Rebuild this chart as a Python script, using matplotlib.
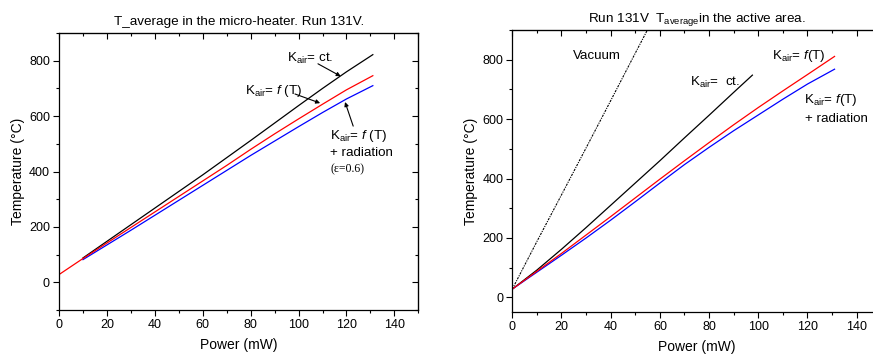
"""Micro-heater average temperature vs power, run 131V (two panels)."""
import matplotlib
matplotlib.use("Agg")
import matplotlib.pyplot as plt
from matplotlib.ticker import MultipleLocator

plt.rcParams["font.family"] = ["Liberation Sans", "DejaVu Sans"]
plt.rcParams["mathtext.fontset"] = "custom"
plt.rcParams["mathtext.rm"] = "Liberation Sans"
plt.rcParams["mathtext.it"] = "Liberation Sans:italic"

# ---- left panel: T_average in the micro-heater ----
L_P_CT = [10, 20, 30, 40, 50, 60, 70, 80, 90, 100, 110, 120, 131]
L_T_CT = [88, 148, 208, 268, 328, 388, 450, 512, 575, 638, 700, 760, 822]
L_P_FT = [0, 10, 20, 30, 40, 50, 60, 70, 80, 90, 100, 110, 120, 131]
L_T_FT = [28, 86, 142, 198, 254, 310, 366, 422, 480, 536, 590, 643, 695, 746]
L_P_RAD = [10, 20, 30, 40, 50, 60, 70, 80, 90, 100, 110, 120, 131]
L_T_RAD = [82, 135, 188, 242, 296, 350, 404, 458, 510, 562, 613, 662, 710]

# ---- right panel: T_average in the active area ----
R_P_VAC = [0, 10, 20, 30, 40, 50, 56]
R_T_VAC = [28, 188, 345, 503, 662, 822, 917]
R_P_CT = [0, 10, 20, 30, 40, 50, 60, 70, 80, 90, 97.6]
R_T_CT = [28, 92, 162, 235, 310, 385, 460, 537, 613, 690, 748]
R_P_FT = [0, 10, 20, 30, 40, 50, 60, 70, 80, 90, 100, 110, 120, 131]
R_T_FT = [28, 88, 148, 210, 272, 335, 398, 460, 521, 581, 639, 695, 750, 811]
R_P_RAD = [0, 10, 20, 30, 40, 50, 60, 70, 80, 90, 100, 110, 120, 131]
R_T_RAD = [28, 85, 142, 200, 260, 322, 385, 447, 505, 561, 614, 667, 718, 768]

KCT = r"K$_\mathrm{air}$= ct."
KFT = r"K$_\mathrm{air}$= $\mathit{f}$ (T)"
KFT2 = r"K$_\mathrm{air}$= $\mathit{f}$(T)"
ARROW = dict(arrowstyle="-|>", lw=0.8, color="k", mutation_scale=6,
             shrinkA=0, shrinkB=0)
FS = 9.6


def style(ax, ylim):
    ax.set_xlim(0, 150)
    ax.set_ylim(*ylim)
    ax.xaxis.set_major_locator(MultipleLocator(20))
    ax.xaxis.set_minor_locator(MultipleLocator(10))
    ax.yaxis.set_major_locator(MultipleLocator(200))
    ax.yaxis.set_minor_locator(MultipleLocator(100))
    ax.tick_params(which="both", direction="out", labelsize=9, pad=2, width=0.8)
    ax.tick_params(which="major", length=4.5)
    ax.tick_params(which="minor", length=2.5)
    for s in ax.spines.values():
        s.set_linewidth(0.9)
    # mirror ticks pointing inward on top / right
    top = ax.secondary_xaxis("top")
    top.xaxis.set_major_locator(MultipleLocator(20))
    top.xaxis.set_minor_locator(MultipleLocator(10))
    top.tick_params(which="both", direction="in", labeltop=False, width=0.8)
    top.tick_params(which="major", length=4.5)
    top.tick_params(which="minor", length=2.5)
    right = ax.secondary_yaxis("right")
    right.yaxis.set_major_locator(MultipleLocator(200))
    right.yaxis.set_minor_locator(MultipleLocator(100))
    right.tick_params(which="both", direction="in", labelright=False, width=0.8)
    right.tick_params(which="major", length=4.5)
    right.tick_params(which="minor", length=2.5)
    ax.set_xlabel("Power (mW)", fontsize=10, labelpad=5)
    ax.set_ylabel("Temperature (°C)", fontsize=10, labelpad=3)


fig = plt.figure(figsize=(8.73, 3.58), dpi=100)

ax1 = fig.add_axes([0.0676, 0.134, 0.4116, 0.7737])
ax1.plot(L_P_CT, L_T_CT, color="black", lw=0.9)
ax1.plot(L_P_RAD, L_T_RAD, color="blue", lw=0.9)
ax1.plot(L_P_FT, L_T_FT, color="red", lw=0.9)
style(ax1, (-100, 900))
ax1.set_title("T_average in the micro-heater. Run 131V.", fontsize=9.7, pad=6)
ax1.text(95.2, 796, KCT, fontsize=FS)
ax1.annotate("", xy=(117.6, 744), xytext=(108.1, 789), arrowprops=ARROW)
ax1.text(77.7, 680, KFT, fontsize=FS)
ax1.annotate("", xy=(109, 647), xytext=(98.5, 680), arrowprops=ARROW)
ax1.text(113.2, 516, KFT, fontsize=FS)
ax1.text(113.2, 455, "+ radiation", fontsize=FS)
ax1.text(113.2, 396, "(ε=0.6)", fontsize=8.5, family=["Liberation Serif", "DejaVu Serif"])
ax1.annotate("", xy=(119.4, 651), xytext=(122.8, 564), arrowprops=ARROW)

ax2 = fig.add_axes([0.5868, 0.1277, 0.4227, 0.7886])
ax2.plot(R_P_VAC, R_T_VAC, color="black", lw=0.8, ls=(0, (2, 1, 1, 1)))
ax2.plot(R_P_CT, R_T_CT, color="black", lw=0.9)
ax2.plot(R_P_RAD, R_T_RAD, color="blue", lw=0.9)
ax2.plot(R_P_FT, R_T_FT, color="red", lw=0.9)
style(ax2, (-50, 900))
ax2.set_title(r"Run 131V  T$_\mathrm{average}$in the active area.", fontsize=9.7, pad=6)
ax2.text(24.6, 801, "Vacuum", fontsize=FS)
ax2.text(72.2, 711, KCT.replace("= ", "=  "), fontsize=FS)
ax2.text(105.4, 802, KFT2, fontsize=FS)
ax2.text(118.7, 653, KFT2, fontsize=FS)
ax2.text(119.0, 589, "+ radiation", fontsize=FS)

fig.savefig("out.png", dpi=100)
